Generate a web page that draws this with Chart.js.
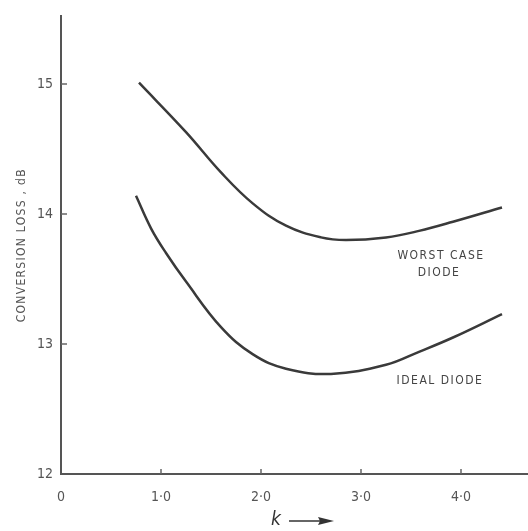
<!DOCTYPE html>
<html>
<head>
<meta charset="utf-8">
<script src="https://cdn.jsdelivr.net/npm/chart.js@4"></script>
<style>
  html, body { margin: 0; padding: 0; background: #fff; }
  #wrap { width: 528px; height: 531px; }
</style>
</head>
<body>
<div id="wrap"><canvas id="grafico"></canvas></div>
<script>
// values (k, conversion loss in dB)
const worstK = [0.78, 1.25, 1.6, 1.92, 2.25, 2.6, 2.85, 3.25, 3.58, 3.92, 4.41]
const worstLoss = [15.01, 14.63, 14.32, 14.08, 13.91, 13.82, 13.80, 13.82, 13.87, 13.94, 14.05]

const idealK = [0.75, 0.9, 1.05, 1.25, 1.6, 1.92, 2.25, 2.7, 3.25, 3.58, 3.92, 4.41]
const idealLoss = [14.14, 13.89, 13.70, 13.48, 13.13, 12.92, 12.81, 12.77, 12.84, 12.94, 13.05, 13.23]

const xTicks = [0, 1, 2, 3, 4]
const xTickLabels = ['0', '1·0', '2·0', '3·0', '4·0']
const yTicks = [12, 13, 14, 15]

const curveLabels = [
    { text: 'WORST CASE', x: 3.8, y: 13.68 },
    { text: 'DIODE', x: 3.78, y: 13.55 },
    { text: 'IDEAL DIODE', x: 3.79, y: 12.72 }
]

const yTitle = 'CONVERSION LOSS , dB'

const tinta = '#3a3a3a'
const fonte = '"DejaVu Sans Condensed", "DejaVu Sans", sans-serif'

const toPts = (xs, ys) => xs.map((x, i) => ({ x: x, y: ys[i] }))

// inward tick marks, axis titles and the curve captions
const extras = {
    id: 'extras',
    afterDraw(chart) {
        const c = chart.ctx
        const sx = chart.scales.x
        const sy = chart.scales.y
        const area = chart.chartArea
        c.save()
        c.strokeStyle = '#666'
        c.lineWidth = 1.5
        xTicks.forEach(v => {
            if (v === 0) return
            const px = sx.getPixelForValue(v)
            c.beginPath()
            c.moveTo(px, area.bottom)
            c.lineTo(px, area.bottom - 5)
            c.stroke()
        })
        yTicks.forEach(v => {
            if (v === 12) return
            const py = sy.getPixelForValue(v)
            c.beginPath()
            c.moveTo(area.left, py)
            c.lineTo(area.left + 6, py)
            c.stroke()
        })

        c.fillStyle = '#444'
        c.font = '12px ' + fonte
        c.textAlign = 'center'
        c.textBaseline = 'middle'
        if ('letterSpacing' in c) c.letterSpacing = '1.5px'
        curveLabels.forEach(l => {
            c.fillText(l.text, sx.getPixelForValue(l.x), sy.getPixelForValue(l.y))
        })

        // y title
        c.save()
        c.translate(22, (area.top + area.bottom) / 2)
        c.rotate(-Math.PI / 2)
        c.fillStyle = '#555'
        c.font = '12px ' + fonte
        if ('letterSpacing' in c) c.letterSpacing = '1.3px'
        c.fillText(yTitle, 0, 0)
        c.restore()

        // x title: italic k and a long arrow
        const xm = 276
        const ym = 520
        c.fillStyle = '#333'
        c.font = 'italic 19px ' + fonte
        if ('letterSpacing' in c) c.letterSpacing = '0px'
        c.fillText('k', xm, ym)
        c.strokeStyle = '#333'
        c.lineWidth = 1.5
        c.beginPath()
        c.moveTo(289, ym + 1)
        c.lineTo(326, ym + 1)
        c.stroke()
        c.beginPath()
        c.moveTo(334, ym + 1)
        c.lineTo(318, ym - 3)
        c.lineTo(320, ym + 1)
        c.lineTo(318, ym + 5)
        c.closePath()
        c.fill()
        c.restore()
    }
}

new Chart(document.getElementById('grafico'), {
    type: 'scatter',
    data: {
        datasets: [
            {
                label: 'Worst case diode',
                data: toPts(worstK, worstLoss),
                showLine: true,
                borderColor: tinta,
                borderWidth: 2.5,
                pointRadius: 0,
                tension: 0.4
            },
            {
                label: 'Ideal diode',
                data: toPts(idealK, idealLoss),
                showLine: true,
                borderColor: tinta,
                borderWidth: 2.5,
                pointRadius: 0,
                tension: 0.4
            }
        ]
    },
    options: {
        responsive: true,
        maintainAspectRatio: false,
        animation: false,
        layout: { padding: { top: 10, right: 0, left: 0, bottom: 0 } },
        plugins: {
            legend: { display: false },
            tooltip: { enabled: false }
        },
        scales: {
            x: {
                type: 'linear',
                min: 0,
                max: 4.67,
                afterFit: s => { s.height = 57 },
                afterBuildTicks: s => { s.ticks = xTicks.map(v => ({ value: v })) },
                grid: { display: true, drawOnChartArea: false, drawTicks: false },
                border: { color: '#555', width: 2 },
                ticks: {
                    color: '#555',
                    font: { family: fonte, size: 14 },
                    padding: 15,
                    maxRotation: 0,
                    callback: v => xTickLabels[xTicks.indexOf(v)]
                },
                title: { display: false }
            },
            y: {
                type: 'linear',
                min: 12,
                max: 15.52,
                afterFit: s => { s.width = 61 },
                afterBuildTicks: s => { s.ticks = yTicks.map(v => ({ value: v })) },
                grid: { display: true, drawOnChartArea: false, drawTicks: false },
                border: { color: '#555', width: 2 },
                ticks: {
                    color: '#555',
                    font: { family: fonte, size: 14 },
                    padding: 8
                },
                title: { display: false }
            }
        }
    },
    plugins: [extras]
})
</script>
</body>
</html>
